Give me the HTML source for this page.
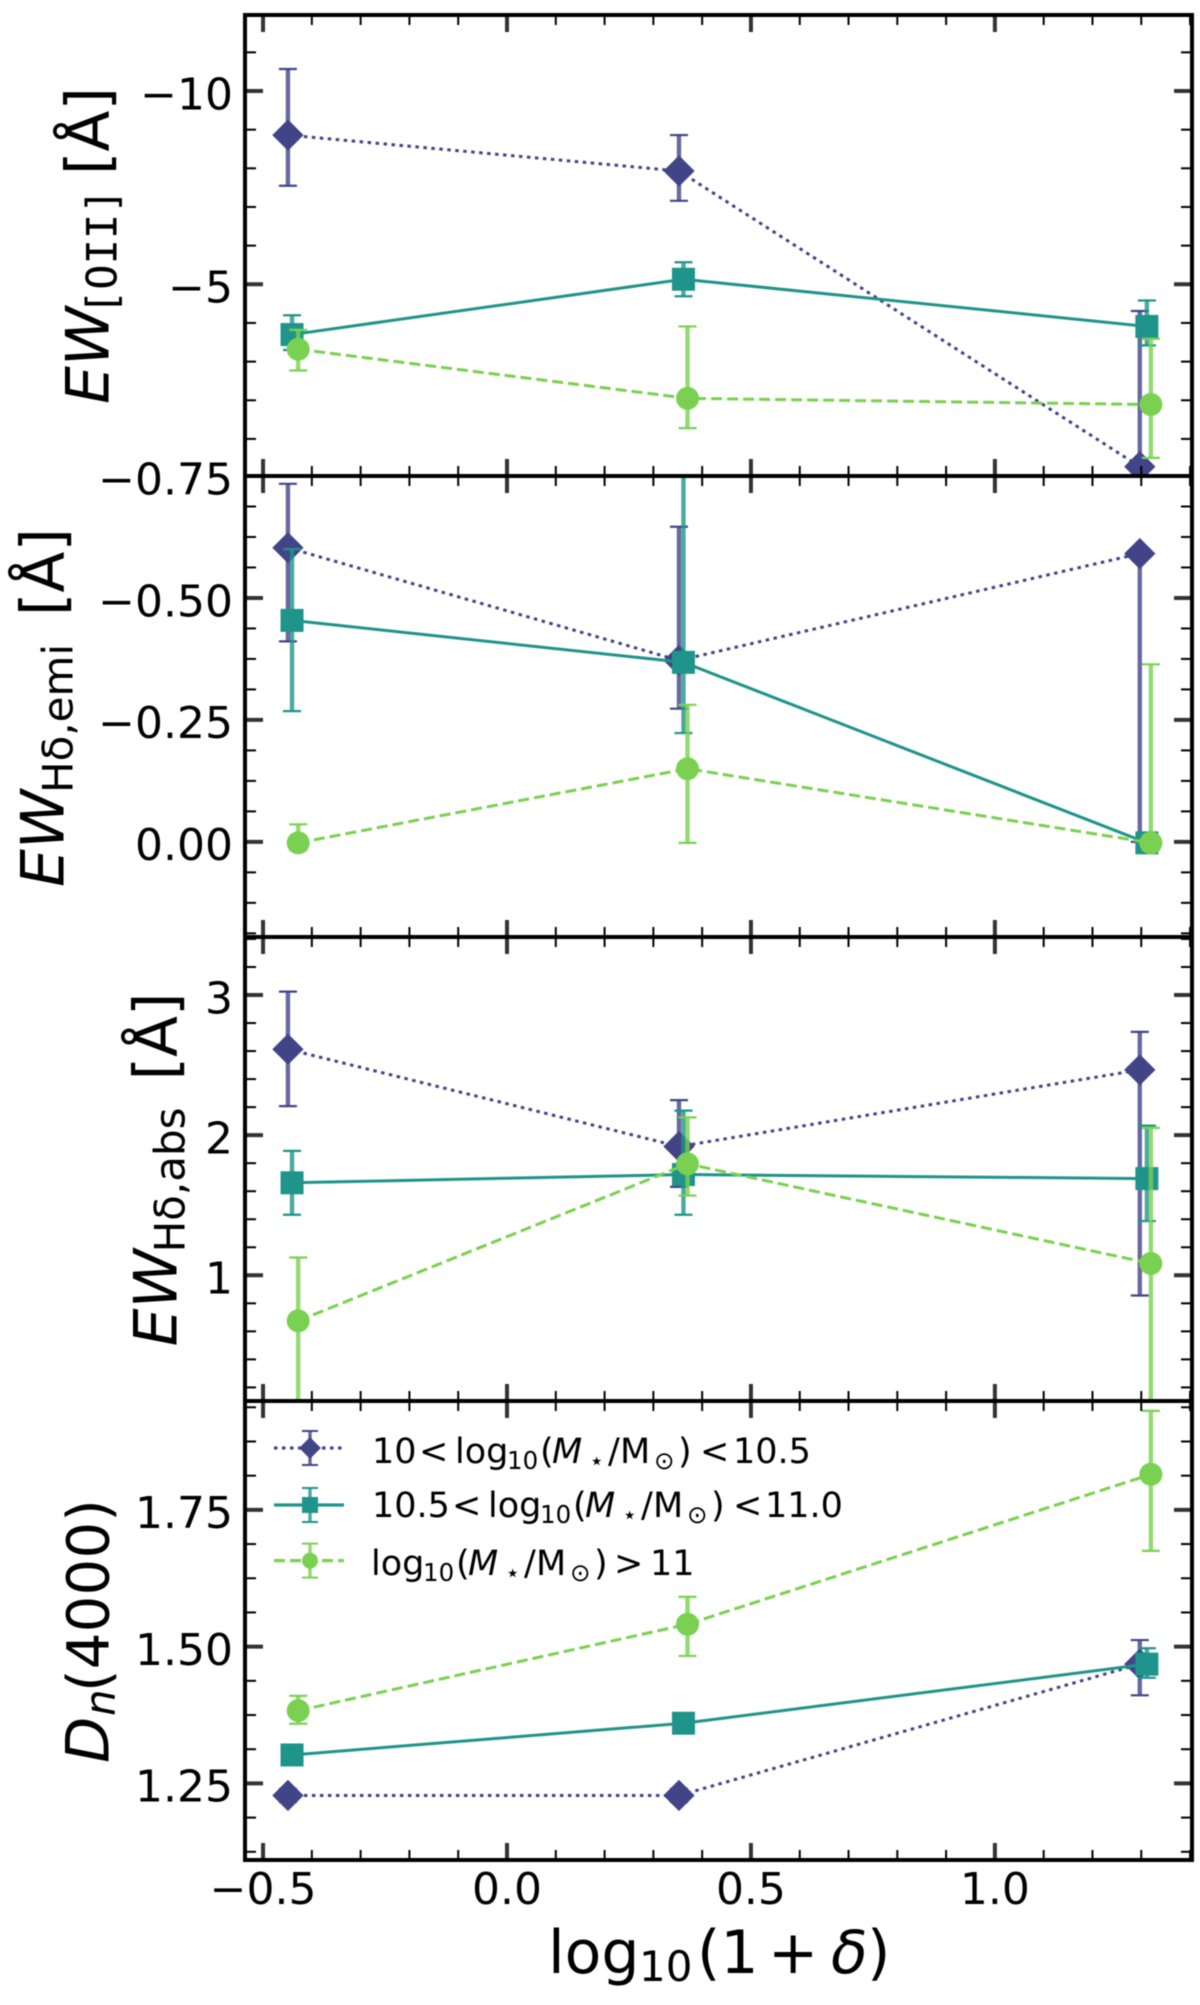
<!DOCTYPE html>
<html lang="en">
<head>
<meta charset="utf-8">
<title>Spectral indices versus overdensity</title>
<style>
  html, body { margin: 0; padding: 0; background: #fff; }
  body { width: 1200px; height: 2005px; overflow: hidden; }
  svg { display: block; filter: blur(0.55px); }
  text { font-family: "DejaVu Sans", "Liberation Sans", sans-serif; fill: #000; }
  .mono { font-family: "DejaVu Sans Mono", "Liberation Mono", monospace; }
</style>
</head>
<body>
<svg id="chart" xmlns="http://www.w3.org/2000/svg" width="1200" height="2005" viewBox="0 0 1200 2005">
  <g id="panels"></g>

  <text transform="translate(108.5,403) rotate(-90)" font-size="60"><tspan x="-1" y="0" font-style="italic">EW</tspan><tspan x="88" y="8" font-size="42" class="mono">[OII]</tspan><tspan x="228" y="0">[Å]</tspan></text>
  <text transform="translate(63.3,886) rotate(-90)" font-size="60"><tspan x="-1" y="0" font-style="italic">EW</tspan><tspan x="93" y="9" font-size="42">Hδ,emi</tspan><tspan x="270" y="0">[Å]</tspan></text>
  <text transform="translate(176.7,1345.4) rotate(-90)" font-size="60"><tspan x="-1" y="0" font-style="italic">EW</tspan><tspan x="93" y="8" font-size="42">Hδ,abs</tspan><tspan x="265" y="0">[Å]</tspan></text>
  <text transform="translate(108.5,1763) rotate(-90)" font-size="60"><tspan x="0" y="0" font-style="italic">D</tspan><tspan x="47" y="6" font-size="42" font-style="italic">n</tspan><tspan x="71" y="0" font-size="58">(4000)</tspan></text>

  <text y="1973" font-size="60"><tspan x="548">log</tspan><tspan x="639" y="1981" font-size="42">10</tspan><tspan x="697" y="1973">(1</tspan><tspan x="768">+</tspan><tspan x="831" font-style="italic">δ</tspan><tspan x="867">)</tspan></text>

  <g id="legend">
    <g id="legend-handles"></g>
    <text y="1463" font-size="35"><tspan x="372">10</tspan><tspan x="419">&lt;</tspan><tspan x="455">log</tspan><tspan x="507" y="1469" font-size="24.5">10</tspan><tspan x="540" y="1463">(</tspan><tspan x="552" font-style="italic">M</tspan><tspan x="589" y="1469" font-size="24.5">⋆</tspan><tspan x="608" y="1463">/</tspan><tspan x="620">M</tspan><tspan x="654" y="1469" font-size="24.5">⊙</tspan><tspan x="678" y="1463">)</tspan><tspan x="700">&lt;</tspan><tspan x="733">10.5</tspan></text>
    <text y="1517" font-size="35"><tspan x="372">10.5</tspan><tspan x="452">&lt;</tspan><tspan x="488">log</tspan><tspan x="540" y="1523" font-size="24.5">10</tspan><tspan x="573" y="1517">(</tspan><tspan x="585" font-style="italic">M</tspan><tspan x="622" y="1523" font-size="24.5">⋆</tspan><tspan x="641" y="1517">/</tspan><tspan x="653">M</tspan><tspan x="687" y="1523" font-size="24.5">⊙</tspan><tspan x="711" y="1517">)</tspan><tspan x="733">&lt;</tspan><tspan x="765">11.0</tspan></text>
    <text y="1575" font-size="35"><tspan x="371">log</tspan><tspan x="423" y="1581" font-size="24.5">10</tspan><tspan x="456" y="1575">(</tspan><tspan x="468" font-style="italic">M</tspan><tspan x="505" y="1581" font-size="24.5">⋆</tspan><tspan x="524" y="1575">/</tspan><tspan x="536">M</tspan><tspan x="570" y="1581" font-size="24.5">⊙</tspan><tspan x="594" y="1575">)</tspan><tspan x="614">&gt;</tspan><tspan x="650">11</tspan></text>
  </g>
</svg>

<script>
// ---- categories and x positions (log10(1+delta)) for each mass bin ----
const massBins = ['low-mass', 'mid-mass', 'high-mass'];
const xLowMass = [-0.449, 0.3525, 1.297];
const xMidMass = [-0.4406, 0.3617, 1.3115];
const xHighMass = [-0.428, 0.37, 1.3197];

// ---- EW [OII] ----
const oiiLowMass = [-8.86, -7.93, -0.283];
const oiiLowMassTop = [-10.57, -8.86, -4.31];
const oiiLowMassBottom = [-7.55, -7.16, 0.6];
const oiiMidMass = [-3.70, -5.13, -3.91];
const oiiMidMassTop = [-4.20, -5.57, -4.58];
const oiiMidMassBottom = [-3.30, -4.69, -3.42];
const oiiHighMass = [-3.32, -2.05, -1.89];
const oiiHighMassTop = [-3.82, -3.91, -3.59];
const oiiHighMassBottom = [-2.77, -1.28, -0.51];

// ---- EW Hdelta emission ----
const emiLowMass = [-0.603, -0.372, -0.591];
const emiLowMassTop = [-0.734, -0.646, -0.591];
const emiLowMassBottom = [-0.411, -0.273, 0.0];
const emiMidMass = [-0.454, -0.368, 0.002];
const emiMidMassTop = [-0.6, -0.8, 0.002];
const emiMidMassBottom = [-0.268, -0.223, 0.002];
const emiHighMass = [0.002, -0.150, 0.002];
const emiHighMassTop = [-0.036, -0.281, -0.364];
const emiHighMassBottom = [0.017, 0.002, 0.017];

// ---- EW Hdelta absorption ----
const absLowMass = [2.613, 1.919, 2.466];
const absLowMassTop = [3.024, 2.25, 2.737];
const absLowMassBottom = [2.207, 1.631, 0.856];
const absMidMass = [1.66, 1.719, 1.69];
const absMidMassTop = [1.888, 2.175, 2.068];
const absMidMassBottom = [1.432, 1.432, 1.387];
const absHighMass = [0.675, 1.795, 1.084];
const absHighMassTop = [1.127, 2.127, 2.052];
const absHighMassBottom = [-0.2, 1.569, -0.1];

// ---- Dn(4000) ----
const dnLowMass = [1.228, 1.228, 1.468];
const dnLowMassTop = [1.24, 1.24, 1.512];
const dnLowMassBottom = [1.216, 1.216, 1.411];
const dnMidMass = [1.302, 1.36, 1.468];
const dnMidMassTop = [1.312, 1.37, 1.497];
const dnMidMassBottom = [1.292, 1.35, 1.443];
const dnHighMass = [1.383, 1.541, 1.815];
const dnHighMassTop = [1.41, 1.591, 1.931];
const dnHighMassBottom = [1.359, 1.483, 1.675];

// ---- tick values and labels ----
const xTicks = [-0.5, 0, 0.5, 1];
const xTickLabels = ['−0.5', '0.0', '0.5', '1.0'];
const oiiTicks = [-10, -5];
const oiiTickLabels = ['−10', '−5'];
const emiTicks = [-0.75, -0.5, -0.25, 0];
const emiTickLabels = ['−0.75', '−0.50', '−0.25', '0.00'];
const absTicks = [1, 2, 3];
const absTickLabels = ['1', '2', '3'];
const dnTicks = [1.25, 1.5, 1.75];
const dnTickLabels = ['1.25', '1.50', '1.75'];

// ---- layout and styling (not data) ----
const NS = 'http://www.w3.org/2000/svg';
const plotLeft = 245;
const plotRight = 1192;
const xLimits = [-0.537, 1.404];
const seriesStyles = [
  { color: '#414487', dash: '3.5 4.5', marker: 'diamond' },
  { color: '#1f948a', dash: '', marker: 'square' },
  { color: '#7ad151', dash: '11 5', marker: 'circle' }
];
const panels = [
  { key: 'oii', top: 15, bottom: 476, yLimits: [-11.966, -0.041], ticks: oiiTicks, labels: oiiTickLabels, minorStep: 1,
    values: [oiiLowMass, oiiMidMass, oiiHighMass], upper: [oiiLowMassTop, oiiMidMassTop, oiiHighMassTop], lower: [oiiLowMassBottom, oiiMidMassBottom, oiiHighMassBottom] },
  { key: 'emi', top: 476, bottom: 937, yLimits: [-0.75, 0.195], ticks: emiTicks, labels: emiTickLabels, minorStep: 0.0625,
    values: [emiLowMass, emiMidMass, emiHighMass], upper: [emiLowMassTop, emiMidMassTop, emiHighMassTop], lower: [emiLowMassBottom, emiMidMassBottom, emiHighMassBottom] },
  { key: 'abs', top: 937, bottom: 1401, yLimits: [3.414, 0.103], ticks: absTicks, labels: absTickLabels, minorStep: 0.2,
    values: [absLowMass, absMidMass, absHighMass], upper: [absLowMassTop, absMidMassTop, absHighMassTop], lower: [absLowMassBottom, absMidMassBottom, absHighMassBottom] },
  { key: 'dn', top: 1401, bottom: 1860, yLimits: [1.949, 1.11], ticks: dnTicks, labels: dnTickLabels, minorStep: 0.0625,
    values: [dnLowMass, dnMidMass, dnHighMass], upper: [dnLowMassTop, dnMidMassTop, dnHighMassTop], lower: [dnLowMassBottom, dnMidMassBottom, dnHighMassBottom] }
];
const xSeries = [xLowMass, xMidMass, xHighMass];

function add(parent, tag, attrs) {
  const el = document.createElementNS(NS, tag);
  for (const k in attrs) el.setAttribute(k, attrs[k]);
  parent.appendChild(el);
  return el;
}
function xScale(v) {
  return plotLeft + (v - xLimits[0]) / (xLimits[1] - xLimits[0]) * (plotRight - plotLeft);
}
function yScaleFor(panel) {
  return function (v) {
    return panel.top + (v - panel.yLimits[0]) / (panel.yLimits[1] - panel.yLimits[0]) * (panel.bottom - panel.top);
  };
}
function drawMarker(parent, kind, cx, cy, size, color) {
  let el;
  if (kind === 'diamond') {
    const h = size * 0.68;
    el = add(parent, 'polygon', { points: [cx - h, cy, cx, cy - h, cx + h, cy, cx, cy + h].join(','), fill: color });
  } else if (kind === 'square') {
    el = add(parent, 'rect', { x: cx - size / 2, y: cy - size / 2, width: size, height: size, fill: color });
  } else {
    el = add(parent, 'circle', { cx: cx, cy: cy, r: size / 2, fill: color });
  }
  return el;
}
function minorValues(limits, step, majors) {
  const lo = Math.min(limits[0], limits[1]);
  const hi = Math.max(limits[0], limits[1]);
  const out = [];
  const origin = majors[0];
  for (let k = Math.ceil((lo - origin) / step); origin + k * step <= hi; k++) {
    const v = origin + k * step;
    if (!majors.some(function (m) { return Math.abs(m - v) < step / 100; })) out.push(v);
  }
  return out;
}

const root = document.getElementById('panels');
const defs = add(root, 'defs', {});

panels.forEach(function (panel, p) {
  const y = yScaleFor(panel);
  const clip = add(defs, 'clipPath', { id: 'clip-' + panel.key });
  add(clip, 'rect', { x: plotLeft, y: panel.top, width: plotRight - plotLeft, height: panel.bottom - panel.top });

  const group = add(root, 'g', {});
  
  

  const plot = add(group, 'g', { 'clip-path': 'url(#clip-' + panel.key + ')' });
  
  

  seriesStyles.forEach(function (style, s) {
    const sg = add(plot, 'g', {});
    
    

    const xs = xSeries[s];
    const vals = panel.values[s];
    const pts = xs.map(function (x, i) { return xScale(x).toFixed(2) + ',' + y(vals[i]).toFixed(2); }).join(' ');
    const line = add(sg, 'polyline', { points: pts, fill: 'none', stroke: style.color, 'stroke-width': 3, 'stroke-dasharray': style.dash });
    
    

    xs.forEach(function (x, i) {
      const cx = xScale(x);
      const yTop = y(panel.upper[s][i]);
      const yBottom = y(panel.lower[s][i]);
      const bar = add(sg, 'line', { x1: cx, x2: cx, y1: yTop, y2: yBottom, stroke: style.color, 'stroke-width': 4.4, opacity: 0.8 });
      
      
      [yTop, yBottom].forEach(function (capY) {
        const cap = add(sg, 'line', { x1: cx - 9, x2: cx + 9, y1: capY, y2: capY, stroke: style.color, 'stroke-width': 2.2 });
        
        
      });
      const mark = drawMarker(sg, style.marker, cx, y(vals[i]), 23, style.color);
      
      
    });
  });

  // Ticks on all four sides, pointing inward.
  const ticks = add(group, 'g', {});
  
  

  const yMinor = minorValues(panel.yLimits, panel.minorStep, panel.ticks);
  yMinor.forEach(function (v) {
    const py = y(v);
    [[plotLeft, plotLeft + 11], [plotRight - 11, plotRight]].forEach(function (seg) {
      const t = add(ticks, 'line', { x1: seg[0], x2: seg[1], y1: py, y2: py, stroke: '#000', 'stroke-width': 2 });
      
      
    });
  });
  panel.ticks.forEach(function (v) {
    const py = y(v);
    [[plotLeft, plotLeft + 18], [plotRight - 18, plotRight]].forEach(function (seg) {
      const t = add(ticks, 'line', { x1: seg[0], x2: seg[1], y1: py, y2: py, stroke: '#333', 'stroke-width': 4 });
      
      
    });
  });
  const xMinor = minorValues(xLimits, 0.1, xTicks);
  xMinor.forEach(function (v) {
    const px = xScale(v);
    [[panel.top, panel.top + 10], [panel.bottom - 10, panel.bottom]].forEach(function (seg) {
      const t = add(ticks, 'line', { x1: px, x2: px, y1: seg[0], y2: seg[1], stroke: '#000', 'stroke-width': 2 });
      
      
    });
  });
  xTicks.forEach(function (v) {
    const px = xScale(v);
    [[panel.top, panel.top + 17], [panel.bottom - 17, panel.bottom]].forEach(function (seg) {
      const t = add(ticks, 'line', { x1: px, x2: px, y1: seg[0], y2: seg[1], stroke: '#333', 'stroke-width': 4 });
      
      
    });
  });

  // Y tick labels.
  panel.ticks.forEach(function (v, i) {
    const label = add(group, 'text', { x: 233, y: y(v) + 18.3, 'font-size': 44, 'text-anchor': 'end' });
    label.textContent = panel.labels[i];
    
    
  });

  // Spines.
  const spine = add(group, 'rect', { x: plotLeft, y: panel.top, width: plotRight - plotLeft, height: panel.bottom - panel.top, fill: 'none', stroke: '#000', 'stroke-width': 4 });
  
  
});

// X tick labels, under the bottom panel only.
xTicks.forEach(function (v, i) {
  const label = add(root, 'text', { x: xScale(v), y: 1904, 'font-size': 44, 'text-anchor': 'middle' });
  label.textContent = xTickLabels[i];
  
  
});

// Legend handles.
const handleRows = [1448, 1505, 1560.6];
const handles = document.getElementById('legend-handles');
seriesStyles.forEach(function (style, s) {
  const cy = handleRows[s];
  const g = add(handles, 'g', {});
  
  
  add(g, 'line', { x1: 274, x2: 344, y1: cy, y2: cy, stroke: style.color, 'stroke-width': 3.2, 'stroke-dasharray': style.dash });
  add(g, 'line', { x1: 310, x2: 310, y1: cy - 17, y2: cy + 17, stroke: style.color, 'stroke-width': 3.5, opacity: 0.8 });
  add(g, 'line', { x1: 302, x2: 318, y1: cy - 17, y2: cy - 17, stroke: style.color, 'stroke-width': 2 });
  add(g, 'line', { x1: 302, x2: 318, y1: cy + 17, y2: cy + 17, stroke: style.color, 'stroke-width': 2 });
  drawMarker(g, style.marker, 310, cy, 16, style.color);
});
</script>
</body>
</html>
